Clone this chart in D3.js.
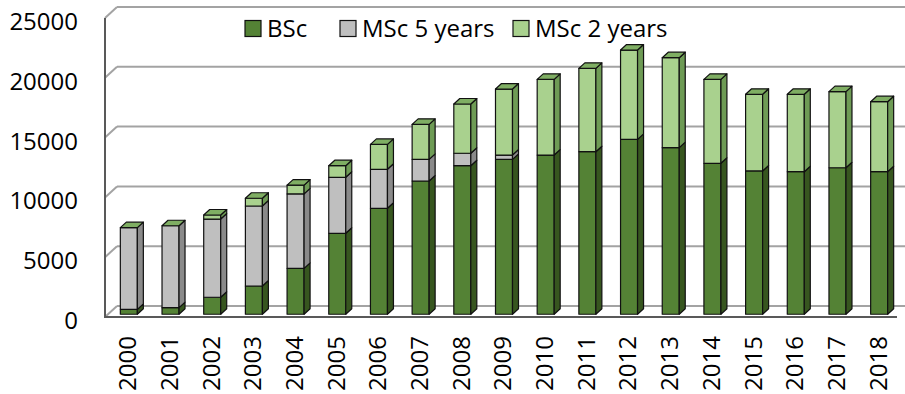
<!DOCTYPE html>
<html>
<head>
<meta charset="utf-8">
<script src="https://cdn.jsdelivr.net/npm/d3@7"></script>
<style>
  html, body { margin: 0; padding: 0; background: #fff; }
  svg { display: block; font-family: "Open Sans", "Noto Sans", sans-serif; }
</style>
</head>
<body>
<svg id="chart" width="905" height="394"></svg>
<script>
// Graduates per year by programme type
const years = ["2000","2001","2002","2003","2004","2005","2006","2007","2008","2009",
               "2010","2011","2012","2013","2014","2015","2016","2017","2018"];
const bsc   = [410, 550, 1420, 2360, 3840, 6770, 8860, 11140, 12420, 12950,
               13310, 13590, 14620, 13930, 12620, 11980, 11920, 12250, 11920];
const msc5  = [6830, 6850, 6540, 6690, 6220, 4680, 3260, 1810, 1040, 360,
               0, 0, 0, 0, 0, 0, 0, 0, 0];
const msc2  = [0, 0, 340, 650, 740, 970, 2080, 2930, 4120, 5520,
               6330, 6970, 7470, 7520, 7020, 6410, 6470, 6360, 5850];
const seriesNames = ["BSc", "MSc 5 years", "MSc 2 years"];
const yTicks = [0, 5000, 10000, 15000, 20000, 25000];

// face colours per series: front, side, top
const palette = [
  { front: "#548235", side: "#37561f", top: "#4a7530" },
  { front: "#bfbfbf", side: "#8a8a8a", top: "#a8a8a8" },
  { front: "#a9d18e", side: "#6e9b55", top: "#7fae63" }
];

const svg = d3.select("#chart");

// oblique 3D projection: z = 0 front plane, z = 1 back wall
const DX = 12, DY = 11;
const y = d3.scaleLinear().domain([0, 25000]).range([317, 18]);
const x = d3.scaleBand().domain(years).range([105, 897])
  .paddingInner(0.592).paddingOuter(0.296);
const P = (xf, v, z) => [xf + z * DX, y(v) - z * DY];

// walls: back-wall gridlines and side-wall diagonals
const grid = svg.append("g");
yTicks.forEach(t => {
  const a = P(105, t, 0), b = P(105, t, 1);
  grid.append("line").attr("x1", b[0]).attr("y1", b[1]).attr("x2", 910).attr("y2", b[1])
    .attr("stroke", "#a3a3a3").attr("stroke-width", 2);
  grid.append("line").attr("x1", a[0]).attr("y1", a[1]).attr("x2", b[0]).attr("y2", b[1])
    .attr("stroke", "#a3a3a3").attr("stroke-width", 2);
});
// left axis and floor front edge
grid.append("line").attr("x1", 105).attr("y1", y(25000)).attr("x2", 105).attr("y2", y(0))
  .attr("stroke", "#595959").attr("stroke-width", 2);
grid.append("line").attr("x1", 104).attr("y1", y(0)).attr("x2", 897).attr("y2", y(0))
  .attr("stroke", "#595959").attr("stroke-width", 2);

// stacked data
const stack = d3.stack().keys([0, 1, 2]).value((d, k) => d[k]);
const rows = years.map((yr, i) => { const r = [bsc[i], msc5[i], msc2[i]]; r.year = yr; return r; });
const layers = stack(rows);

const z0 = 0.25, z1 = 0.75;
const bars = svg.append("g");
const poly = pts => pts.map(p => p.join(",")).join(" ");

years.forEach((yr, i) => {
  const xl = x(yr), xr = x(yr) + x.bandwidth();
  const g = bars.append("g");
  layers.forEach((layer, s) => {
    const [lo, hi] = layer[i];
    if (hi - lo <= 0) return;
    const c = palette[s];
    // front face
    g.append("polygon")
      .attr("points", poly([P(xl, lo, z0), P(xr, lo, z0), P(xr, hi, z0), P(xl, hi, z0)]))
      .attr("fill", c.front).attr("stroke", "#111").attr("stroke-width", 1.2).attr("stroke-linejoin", "round");
    // right side face
    g.append("polygon")
      .attr("points", poly([P(xr, lo, z0), P(xr, lo, z1), P(xr, hi, z1), P(xr, hi, z0)]))
      .attr("fill", c.side).attr("stroke", "#111").attr("stroke-width", 1.2).attr("stroke-linejoin", "round");
  });
  // top face of the last series in the stack
  const top = layers[2][i][1];
  g.append("polygon")
    .attr("points", poly([P(xl, top, z0), P(xr, top, z0), P(xr, top, z1), P(xl, top, z1)]))
    .attr("fill", palette[2].top).attr("stroke", "#111").attr("stroke-width", 1.2).attr("stroke-linejoin", "round");
});

// y-axis tick labels
svg.append("g").selectAll("text").data(yTicks).join("text")
  .attr("x", 78).attr("y", d => y(d) + 3.5).attr("dy", "0.35em")
  .attr("text-anchor", "end").attr("font-size", 24).attr("fill", "#000")
  .text(d => d);

// category labels, rotated
svg.append("g").selectAll("text").data(years).join("text")
  .attr("transform", d => `translate(${x(d) + x.bandwidth() / 2 + 2},336) rotate(-90)`)
  .attr("text-anchor", "end").attr("dy", "0.35em")
  .attr("font-size", 24).attr("fill", "#000")
  .text(d => d);

// legend
const legendX = [245, 340, 513];
const legend = svg.append("g");
seriesNames.forEach((name, s) => {
  legend.append("rect").attr("x", legendX[s]).attr("y", 20.5).attr("width", 16).attr("height", 16)
    .attr("fill", palette[s].front).attr("stroke", "#111").attr("stroke-width", 1.2);
  legend.append("text").attr("x", legendX[s] + 22).attr("y", 28.5).attr("dy", "0.35em")
    .attr("font-size", 24).attr("fill", "#000").text(name);
});
</script>
</body>
</html>
